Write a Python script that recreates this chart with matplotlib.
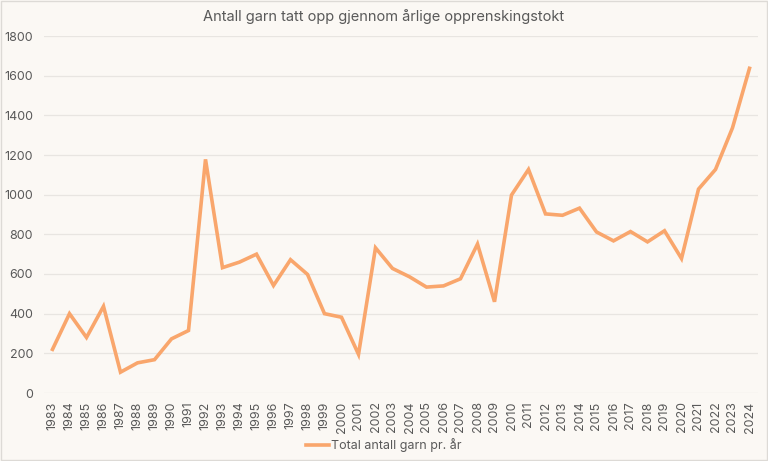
import numpy as np
import matplotlib.pyplot as plt

plt.rcParams['font.family'] = ['Inter', 'DejaVu Sans']

years = [str(y) for y in range(1983, 2025)]
garn = [220, 400, 280, 437, 105, 152, 168, 273, 315, 1178,
        632, 660, 700, 542, 672, 598, 400, 382, 195, 732,
        628, 586, 534, 540, 576, 751, 460, 998, 1127, 903,
        896, 932, 812, 767, 814, 762, 818, 678, 1028, 1127,
        1337, 1637]

bg = '#FBF8F4'
txt = '#595959'
orange = '#F9A66C'

fig = plt.figure(figsize=(7.68, 4.61), dpi=100, facecolor=bg)
ax = fig.add_axes([44/768, 1-393/461, 714/768, 357/461])
ax.set_facecolor(bg)

x = np.arange(len(years))
ax.plot(x, garn, color=orange, lw=2.6, solid_joinstyle='miter', label='Total antall garn pr. år')

ax.set_xlim(-0.5, len(years)-0.5)
ax.set_ylim(0, 1800)
ax.set_yticks(range(0, 1801, 200))
ax.set_xticks(x)
ax.set_xticklabels(years, rotation=90)
ax.tick_params(axis='both', length=0, labelsize=9, colors=txt, pad=6)
ax.tick_params(axis='y', pad=8)
ax.grid(axis='y', color='#E8E5E1', lw=0.9)
ax.set_axisbelow(True)
for s in ax.spines.values():
    s.set_visible(False)

fig.text(0.5, 1-17/461, 'Antall garn tatt opp gjennom årlige opprenskingstokt',
         ha='center', va='center', fontsize=10.5, color=txt)

fig.legend(loc='center', bbox_to_anchor=(0.5, 1-445/461), frameon=False,
           fontsize=9, labelcolor=txt, handlelength=1.8, handletextpad=0.2)

# light border round the chart
fig.patches.append(plt.Rectangle((0.001, 0.002), 0.998, 0.996, transform=fig.transFigure,
                                 fill=False, ec='#DDDAD6', lw=1))

fig.savefig('out.png', dpi=100, facecolor=bg)
